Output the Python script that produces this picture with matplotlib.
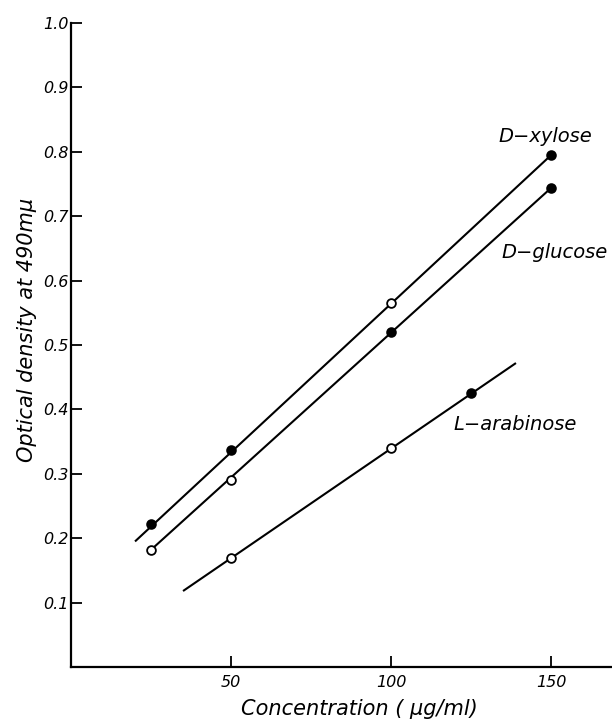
import numpy as np
import matplotlib.pyplot as plt

# Values
conc_xylose = [25, 50, 100, 150]
od_xylose = [0.222, 0.337, 0.565, 0.795]
filled_xylose = [True, True, False, True]
line_xylose_x = [20, 150]
line_xylose_y = [0.195, 0.795]

conc_glucose = [25, 50, 100, 150]
od_glucose = [0.182, 0.290, 0.520, 0.744]
filled_glucose = [False, False, True, True]
line_glucose_x = [25, 150]
line_glucose_y = [0.182, 0.744]

conc_arabinose = [50, 100, 125]
od_arabinose = [0.169, 0.340, 0.425]
filled_arabinose = [False, False, True]
line_arabinose_x = [35, 139]
line_arabinose_y = [0.118, 0.472]

x_ticks = [50, 100, 150]
y_ticks = [0.1, 0.2, 0.3, 0.4, 0.5, 0.6, 0.7, 0.8, 0.9, 1.0]

plt.rcParams['font.family'] = 'DejaVu Sans'
fig = plt.figure(figsize=(6.12, 7.19), dpi=100)
ax = fig.add_axes([0.116, 0.0723, 0.884, 0.8957])

series = [
    (line_xylose_x, line_xylose_y, conc_xylose, od_xylose, filled_xylose),
    (line_glucose_x, line_glucose_y, conc_glucose, od_glucose, filled_glucose),
    (line_arabinose_x, line_arabinose_y, conc_arabinose, od_arabinose, filled_arabinose),
]
for lx, ly, cx, cy, filled in series:
    ax.plot(lx, ly, color='black', lw=1.5, solid_capstyle='butt')
    for x, y, f in zip(cx, cy, filled):
        ax.plot(x, y, 'o', ms=6.3, mec='black', mew=1.3,
                mfc='black' if f else 'white', zorder=3)

ax.text(133.4, 0.823, 'D\u2212xylose', fontsize=14, style='italic', va='center')
ax.text(134.5, 0.644, 'D\u2212glucose', fontsize=14, style='italic', va='center')
ax.text(119.4, 0.377, 'L\u2212arabinose', fontsize=14, style='italic', va='center')

ax.set_xlim(0, 169)
ax.set_ylim(0, 1.0)
ax.set_xticks(x_ticks)
ax.set_xticklabels([str(t) for t in x_ticks], style='italic', fontsize=11.5)
ax.set_yticks(y_ticks)
ax.set_yticklabels(['%.1f' % t for t in y_ticks], style='italic', fontsize=11.5)
ax.tick_params(direction='in', length=8, width=1.3)
ax.tick_params(axis='x', pad=6)
ax.tick_params(axis='y', pad=2)

for s in ['top', 'right']:
    ax.spines[s].set_visible(False)
for s in ['left', 'bottom']:
    ax.spines[s].set_linewidth(1.6)

fig.text(359 / 612, 1 - 709 / 719, 'Concentration ( \u03bcg/ml)', fontsize=15,
         style='italic', ha='center', va='center')
ax.set_ylabel('Optical density at 490m\u03bc', fontsize=15, style='italic')
ax.yaxis.set_label_coords(-0.081, 0.523)
ax.yaxis.label.set_va('center')

fig.savefig('out.png', dpi=100)
